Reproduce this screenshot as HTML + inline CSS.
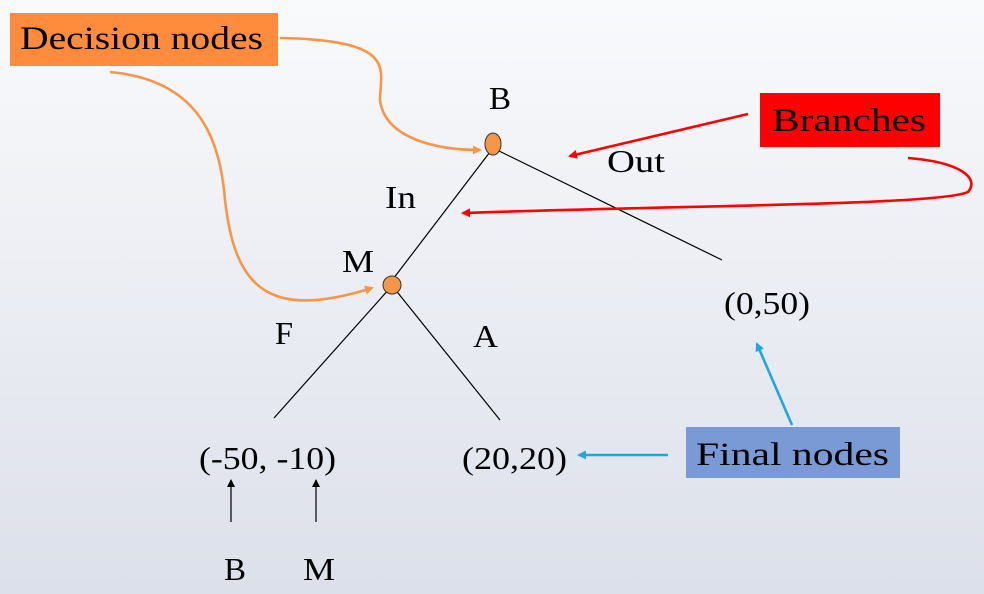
<!DOCTYPE html>
<html><head><meta charset="utf-8"><style>
html,body{margin:0;padding:0;width:984px;height:594px;overflow:hidden}
svg{display:block}
text{font-family:"Liberation Serif",serif;fill:#000}
</style></head><body>
<svg width="984" height="594" viewBox="0 0 984 594">
<defs>
<linearGradient id="bg" x1="0" y1="0" x2="0" y2="1"><stop offset="0" stop-color="#f9fafc"/><stop offset="1" stop-color="#dce0ea"/></linearGradient>
<marker id="ao" markerWidth="9" markerHeight="9" refX="7" refY="4.5" orient="auto" markerUnits="userSpaceOnUse"><path d="M0,0 L9,4.5 L0,9 z" fill="#f79646"/></marker>
<marker id="ar" markerWidth="9" markerHeight="9" refX="7" refY="4.5" orient="auto" markerUnits="userSpaceOnUse"><path d="M0,0 L9,4.5 L0,9 z" fill="#ff0000"/></marker>
<marker id="ab" markerWidth="9" markerHeight="9" refX="7" refY="4.5" orient="auto" markerUnits="userSpaceOnUse"><path d="M0,0 L9,4.5 L0,9 z" fill="#1fa8e0"/></marker>
<marker id="ak" markerWidth="8" markerHeight="8" refX="7" refY="4" orient="auto" markerUnits="userSpaceOnUse"><path d="M0,0 L8,4 L0,8 z" fill="#000"/></marker>
</defs>
<rect width="984" height="594" fill="url(#bg)"/>
<g stroke="#000" stroke-width="1.2">
<line x1="493" y1="148" x2="390" y2="283"/>
<line x1="497" y1="150" x2="722" y2="260"/>
<line x1="390" y1="288" x2="274" y2="418"/>
<line x1="394" y1="288" x2="500" y2="420"/>
</g>
<ellipse cx="493" cy="144" rx="8" ry="11" fill="#f79646" stroke="#333" stroke-width="1"/>
<circle cx="392" cy="285" r="9" fill="#f79646" stroke="#333" stroke-width="1"/>
<g font-size="32">
<text x="489" y="109" textLength="22" lengthAdjust="spacingAndGlyphs">B</text>
<text x="342" y="272" textLength="32" lengthAdjust="spacingAndGlyphs">M</text>
<text x="385" y="208" textLength="31" lengthAdjust="spacingAndGlyphs">In</text>
<text x="607" y="172" textLength="58" lengthAdjust="spacingAndGlyphs">Out</text>
<text x="275" y="344" textLength="18" lengthAdjust="spacingAndGlyphs">F</text>
<text x="473" y="347" textLength="25" lengthAdjust="spacingAndGlyphs">A</text>
<text x="724" y="314" textLength="86" lengthAdjust="spacingAndGlyphs">(0,50)</text>
<text x="199" y="469" textLength="137" lengthAdjust="spacingAndGlyphs">(-50, -10)</text>
<text x="462" y="469" textLength="105" lengthAdjust="spacingAndGlyphs">(20,20)</text>
<text x="224" y="580" textLength="22" lengthAdjust="spacingAndGlyphs">B</text>
<text x="303" y="580" textLength="32" lengthAdjust="spacingAndGlyphs">M</text>
</g>
<g fill="none" stroke-width="2.6">
<path d="M280,38 C400,40 380,70 380,100 C385,140 440,150 480,150" stroke="#f79646" marker-end="url(#ao)"/>
<path d="M110,72 C200,80 220,140 225,200 C235,290 270,320 372,288" stroke="#f79646" marker-end="url(#ao)"/>
<path d="M748,114 L570,156" stroke="#ff0000" marker-end="url(#ar)"/>
<path d="M908,158 C960,162 980,178 968,192 C940,205 700,205 463,213" stroke="#ff0000" marker-end="url(#ar)"/>
<path d="M668,455 L579,455" stroke="#1fa8e0" marker-end="url(#ab)"/>
<path d="M792,425 L757,344" stroke="#1fa8e0" marker-end="url(#ab)"/>
</g>
<g stroke="#000" stroke-width="1.2">
<line x1="231" y1="522" x2="231" y2="480" marker-end="url(#ak)"/>
<line x1="316" y1="522" x2="316" y2="480" marker-end="url(#ak)"/>
</g>
<g>
<rect x="10" y="13" width="268" height="53" fill="#ff8c3c"/>
<text x="20" y="49" font-size="33" textLength="243" lengthAdjust="spacingAndGlyphs">Decision nodes</text>
</g>
<g>
<rect x="760" y="93" width="180" height="54" fill="#ff0000"/>
<text x="772" y="131" font-size="33" textLength="154" lengthAdjust="spacingAndGlyphs">Branches</text>
</g>
<g>
<rect x="686" y="427" width="214" height="51" fill="#7a9ad6"/>
<text x="696" y="465" font-size="33" textLength="193" lengthAdjust="spacingAndGlyphs">Final nodes</text>
</g>
</svg>
</body></html>
